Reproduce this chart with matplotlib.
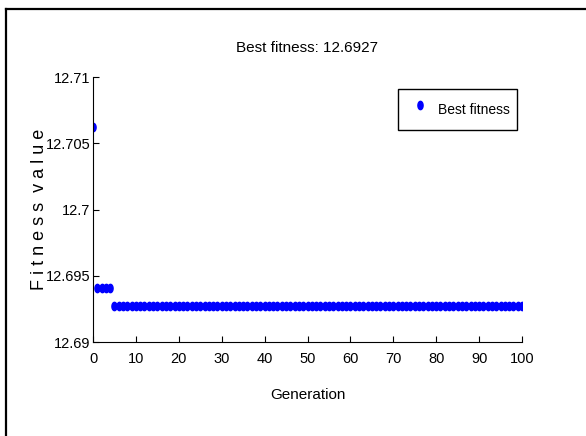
import matplotlib
matplotlib.use('Agg')
from matplotlib import pyplot as plt
from matplotlib.path import Path
from matplotlib.lines import Line2D
import numpy as np

plt.rcParams['font.family'] = ['Liberation Sans', 'DejaVu Sans']

# Generations and best fitness per generation
generation = list(range(101))
best_fitness = [
    12.7062,
    12.6941, 12.6941, 12.6941, 12.6941,
    12.6927, 12.6927, 12.6927, 12.6927, 12.6927,
    12.6927, 12.6927, 12.6927, 12.6927, 12.6927, 12.6927, 12.6927, 12.6927, 12.6927, 12.6927,
    12.6927, 12.6927, 12.6927, 12.6927, 12.6927, 12.6927, 12.6927, 12.6927, 12.6927, 12.6927,
    12.6927, 12.6927, 12.6927, 12.6927, 12.6927, 12.6927, 12.6927, 12.6927, 12.6927, 12.6927,
    12.6927, 12.6927, 12.6927, 12.6927, 12.6927, 12.6927, 12.6927, 12.6927, 12.6927, 12.6927,
    12.6927, 12.6927, 12.6927, 12.6927, 12.6927, 12.6927, 12.6927, 12.6927, 12.6927, 12.6927,
    12.6927, 12.6927, 12.6927, 12.6927, 12.6927, 12.6927, 12.6927, 12.6927, 12.6927, 12.6927,
    12.6927, 12.6927, 12.6927, 12.6927, 12.6927, 12.6927, 12.6927, 12.6927, 12.6927, 12.6927,
    12.6927, 12.6927, 12.6927, 12.6927, 12.6927, 12.6927, 12.6927, 12.6927, 12.6927, 12.6927,
    12.6927, 12.6927, 12.6927, 12.6927, 12.6927, 12.6927, 12.6927, 12.6927, 12.6927, 12.6927,
    12.6927,
]
x_ticks = [0, 10, 20, 30, 40, 50, 60, 70, 80, 90, 100]
y_ticks = [12.69, 12.695, 12.7, 12.705, 12.71]
y_tick_labels = ['12.69', '12.695', '12.7', '12.705', '12.71']

# tall ellipse marker like the stretched matlab dots
t = np.linspace(0, 2 * np.pi, 40)
dot = Path(np.column_stack([0.62 * np.cos(t), np.sin(t)]), closed=True)

fig = plt.figure(figsize=(5.86, 4.36), dpi=100)
ax = fig.add_axes([93 / 586, 1 - 342 / 436, 429 / 586, 265 / 436])

ax.plot(generation, best_fitness, linestyle='none', marker=dot, markersize=6,
        color='#0000ff', label='Best fitness')

ax.set_xlim(0, 100)
ax.set_ylim(12.69, 12.71)
ax.set_xticks(x_ticks)
ax.set_yticks(y_ticks)
ax.set_yticklabels(y_tick_labels)
ax.tick_params(direction='in', length=4, width=0.8, labelsize=10.5)
ax.tick_params(axis='x', pad=7)
ax.tick_params(axis='y', pad=2)
for side in ['top', 'right']:
    ax.spines[side].set_visible(False)
for side in ['left', 'bottom']:
    ax.spines[side].set_linewidth(0.8)

ax.set_title('Best fitness: 12.6927', fontsize=11, pad=18)
ax.set_xlabel('Generation', fontsize=11)
ax.set_ylabel('F i t n e s s  v a l u e', fontsize=13)
ax.xaxis.set_label_coords(0.5, -0.175)
ax.yaxis.set_label_coords(-0.105, 0.5)

leg = ax.legend(loc='upper right', bbox_to_anchor=(0.988, 0.953), numpoints=1,
                fancybox=False, edgecolor='black', framealpha=1, fontsize=10,
                borderpad=0.5, handlelength=2.2, handleheight=2.6,
                handletextpad=0.2, borderaxespad=0)
leg.get_frame().set_linewidth(1.0)

# outer frame (left and top edges only, as cropped)
fig.add_artist(Line2D([6 / 586, 6 / 586], [0, 1 - 9 / 436], transform=fig.transFigure,
                      color='black', linewidth=1.6))
fig.add_artist(Line2D([6 / 586, 1], [1 - 9 / 436, 1 - 9 / 436], transform=fig.transFigure,
                      color='black', linewidth=1.6))

fig.savefig('out.png', dpi=100)
